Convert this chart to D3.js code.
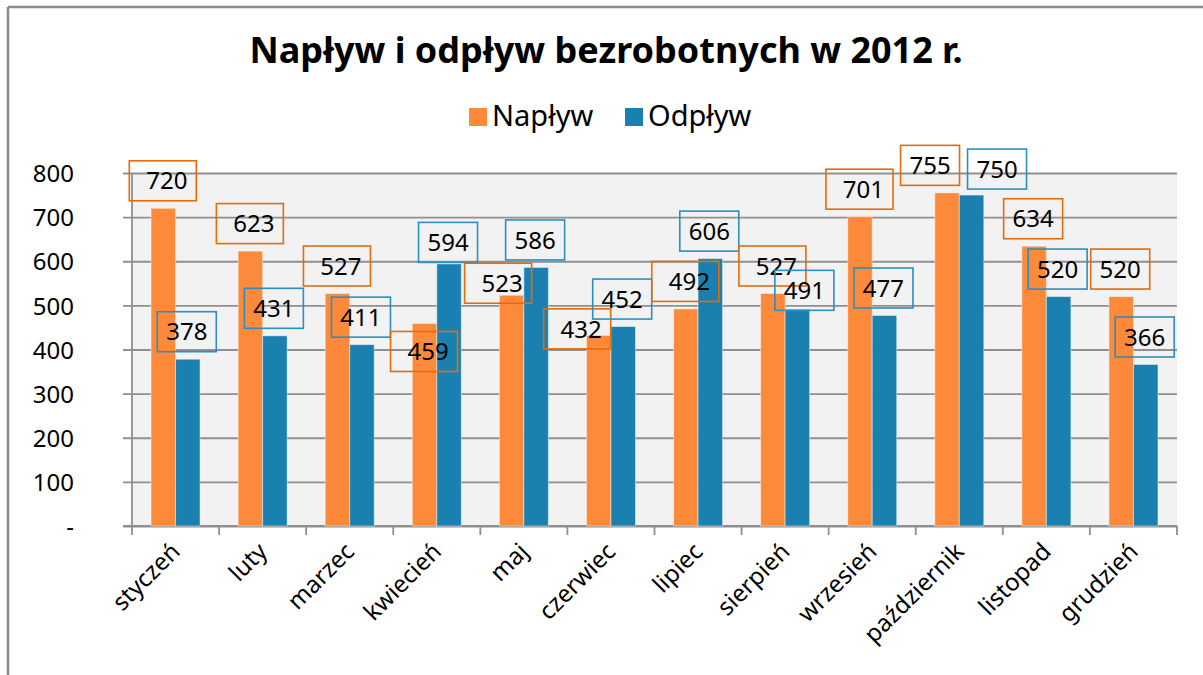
<!DOCTYPE html>
<html>
<head>
<meta charset="utf-8">
<script src="https://cdn.jsdelivr.net/npm/d3@7"></script>
<style>
  body { margin: 0; background: #fff; }
  svg text { font-family: "Noto Sans", sans-serif; fill: #000; }
</style>
</head>
<body>
<div id="chart"></div>
<script>
// data
const months = ["styczeń", "luty", "marzec", "kwiecień", "maj", "czerwiec",
                "lipiec", "sierpień", "wrzesień", "październik", "listopad", "grudzień"];
const seriesNames = ["Napływ", "Odpływ"];
const naplyw = [720, 623, 527, 459, 523, 432, 492, 527, 701, 755, 634, 520];
const odplyw = [378, 431, 411, 594, 586, 452, 606, 491, 477, 750, 520, 366];
const yTicks = [0, 100, 200, 300, 400, 500, 600, 700, 800];

// hand-moved data labels in the original (pixel nudges)
const nudgeNaplyw = [[0,0],[0,0],[0,0],[0,55.5],[-13,15.5],[-21,21],[0,0],[0,0],[0,0],[-16,0],[0,0],[0,0]];
const nudgeOdplyw = [[0,0],[0,0],[0,0],[0,6],[0,0],[0,0],[0,0],[8,8.5],[0,0],[26.5,1.5],[0,0],[0,0]];

const colors = {"Napływ": "#fd8a3a", "Odpływ": "#1a80b0"};
const boxColors = {"Napływ": "#e46c0a", "Odpływ": "#2a8fc1"};

const W = 1203, H = 675;
const plot = {left: 132, right: 1177, top: 173, bottom: 526};

const svg = d3.select("#chart").append("svg")
    .attr("width", W)
    .attr("height", H);

// outer frame (only left and top edges are visible)
svg.append("line").attr("x1", 8).attr("y1", 7).attr("x2", 8).attr("y2", H)
    .attr("stroke", "#8c8c8c").attr("stroke-width", 2.5);
svg.append("line").attr("x1", 8).attr("y1", 7).attr("x2", W).attr("y2", 7)
    .attr("stroke", "#8c8c8c").attr("stroke-width", 2.5);

// title
svg.append("text")
    .attr("x", 606).attr("y", 63)
    .attr("text-anchor", "middle")
    .style("font-size", "36px")
    .style("font-weight", "bold")
    .text("Napływ i odpływ bezrobotnych w 2012 r.");

// legend
const legendX = [469, 625];
seriesNames.forEach(function (s, i) {
    svg.append("rect")
        .attr("x", legendX[i]).attr("y", 108)
        .attr("width", 18).attr("height", 18)
        .attr("fill", colors[s]);
    svg.append("text")
        .attr("x", legendX[i] + 23).attr("y", 126)
        .style("font-size", "29px")
        .text(s);
});

// scales
const x0 = d3.scaleBand().domain(months).range([plot.left, plot.right]);
const x1 = d3.scaleBand().domain(seriesNames).range([0, x0.bandwidth()])
    .paddingInner(0).paddingOuter(0.777);
const y = d3.scaleLinear().domain([0, 800]).range([plot.bottom, plot.top]);

// plot background
svg.append("rect")
    .attr("x", plot.left).attr("y", plot.top)
    .attr("width", plot.right - plot.left).attr("height", plot.bottom - plot.top)
    .attr("fill", "#f2f2f2");

// horizontal grid + y axis
const yAxis = d3.axisLeft(y)
    .tickValues(yTicks)
    .tickSize(-(plot.right - plot.left))
    .tickFormat(d => d === 0 ? "-" : d);

const gy = svg.append("g")
    .attr("transform", "translate(" + plot.left + ",0)")
    .call(yAxis);
gy.select(".domain").remove();
gy.selectAll(".tick line")
    .attr("x1", -9)
    .attr("stroke", "#8f8f8f")
    .attr("stroke-width", 1.8);
gy.selectAll(".tick text")
    .attr("x", 74 - plot.left)
    .attr("dy", "0.36em")
    .style("font-size", "24px")
    .style("font-family", "Noto Sans, sans-serif")
    .attr("fill", "#000");

// left axis line
svg.append("line")
    .attr("x1", plot.left).attr("x2", plot.left)
    .attr("y1", plot.top).attr("y2", plot.bottom)
    .attr("stroke", "#8f8f8f").attr("stroke-width", 1.8);

// x axis: baseline with ticks between categories
const boundaries = months.map(m => x0(m)).concat([plot.right]);
svg.append("line")
    .attr("x1", plot.left - 9).attr("x2", plot.right)
    .attr("y1", plot.bottom).attr("y2", plot.bottom)
    .attr("stroke", "#8f8f8f").attr("stroke-width", 1.8);
svg.selectAll(".xtick")
    .data(boundaries)
    .enter().append("line")
    .attr("class", "xtick")
    .attr("x1", d => d).attr("x2", d => d)
    .attr("y1", plot.bottom).attr("y2", plot.bottom + 9)
    .attr("stroke", "#8f8f8f").attr("stroke-width", 1.8);

svg.selectAll(".xlabel")
    .data(months)
    .enter().append("text")
    .attr("class", "xlabel")
    .attr("text-anchor", "end")
    .attr("transform", d => "translate(" + (x0(d) + x0.bandwidth() / 2 + 6) + "," + 553 + ") rotate(-45)")
    .style("font-size", "24px")
    .text(d => d);

// bars
const rows = months.map(function (m, i) {
    return {month: m, values: [
        {series: "Napływ", value: naplyw[i], nudge: nudgeNaplyw[i], idx: i},
        {series: "Odpływ", value: odplyw[i], nudge: nudgeOdplyw[i], idx: i}
    ]};
});

const groups = svg.selectAll(".month")
    .data(rows)
    .enter().append("g")
    .attr("class", "month")
    .attr("transform", d => "translate(" + x0(d.month) + ",0)");

groups.selectAll("rect")
    .data(d => d.values)
    .enter().append("rect")
    .attr("x", d => x1(d.series))
    .attr("y", d => y(d.value))
    .attr("width", x1.bandwidth())
    .attr("height", d => y(0) - y(d.value))
    .attr("fill", d => colors[d.series])
    .attr("stroke", "rgba(255,255,255,0.45)")
    .attr("stroke-width", 1);

// data labels in boxes
const labels = groups.selectAll(".lbl")
    .data(d => d.values)
    .enter().append("g")
    .attr("class", "lbl")
    .attr("transform", function (d) {
        let wide = d.series === "Napływ" && d.idx < 9;
        let cx = x1(d.series) + x1.bandwidth() / 2 + (wide ? 3.5 : -1) + d.nudge[0];
        let cy = y(d.value) - 27.5 + d.nudge[1];
        return "translate(" + cx + "," + cy + ")";
    });

labels.append("rect")
    .attr("x", d => (d.series === "Napływ" && d.idx < 9) ? -37.5 : -29.5)
    .attr("y", -20)
    .attr("width", d => (d.series === "Napływ" && d.idx < 9) ? 67 : 59)
    .attr("height", 40)
    .attr("fill", "none")
    .attr("stroke", d => boxColors[d.series])
    .attr("stroke-width", 1.6);

labels.append("text")
    .attr("text-anchor", "middle")
    .attr("dy", "0.36em")
    .style("font-size", "24px")
    .text(d => d.value);
</script>
</body>
</html>
